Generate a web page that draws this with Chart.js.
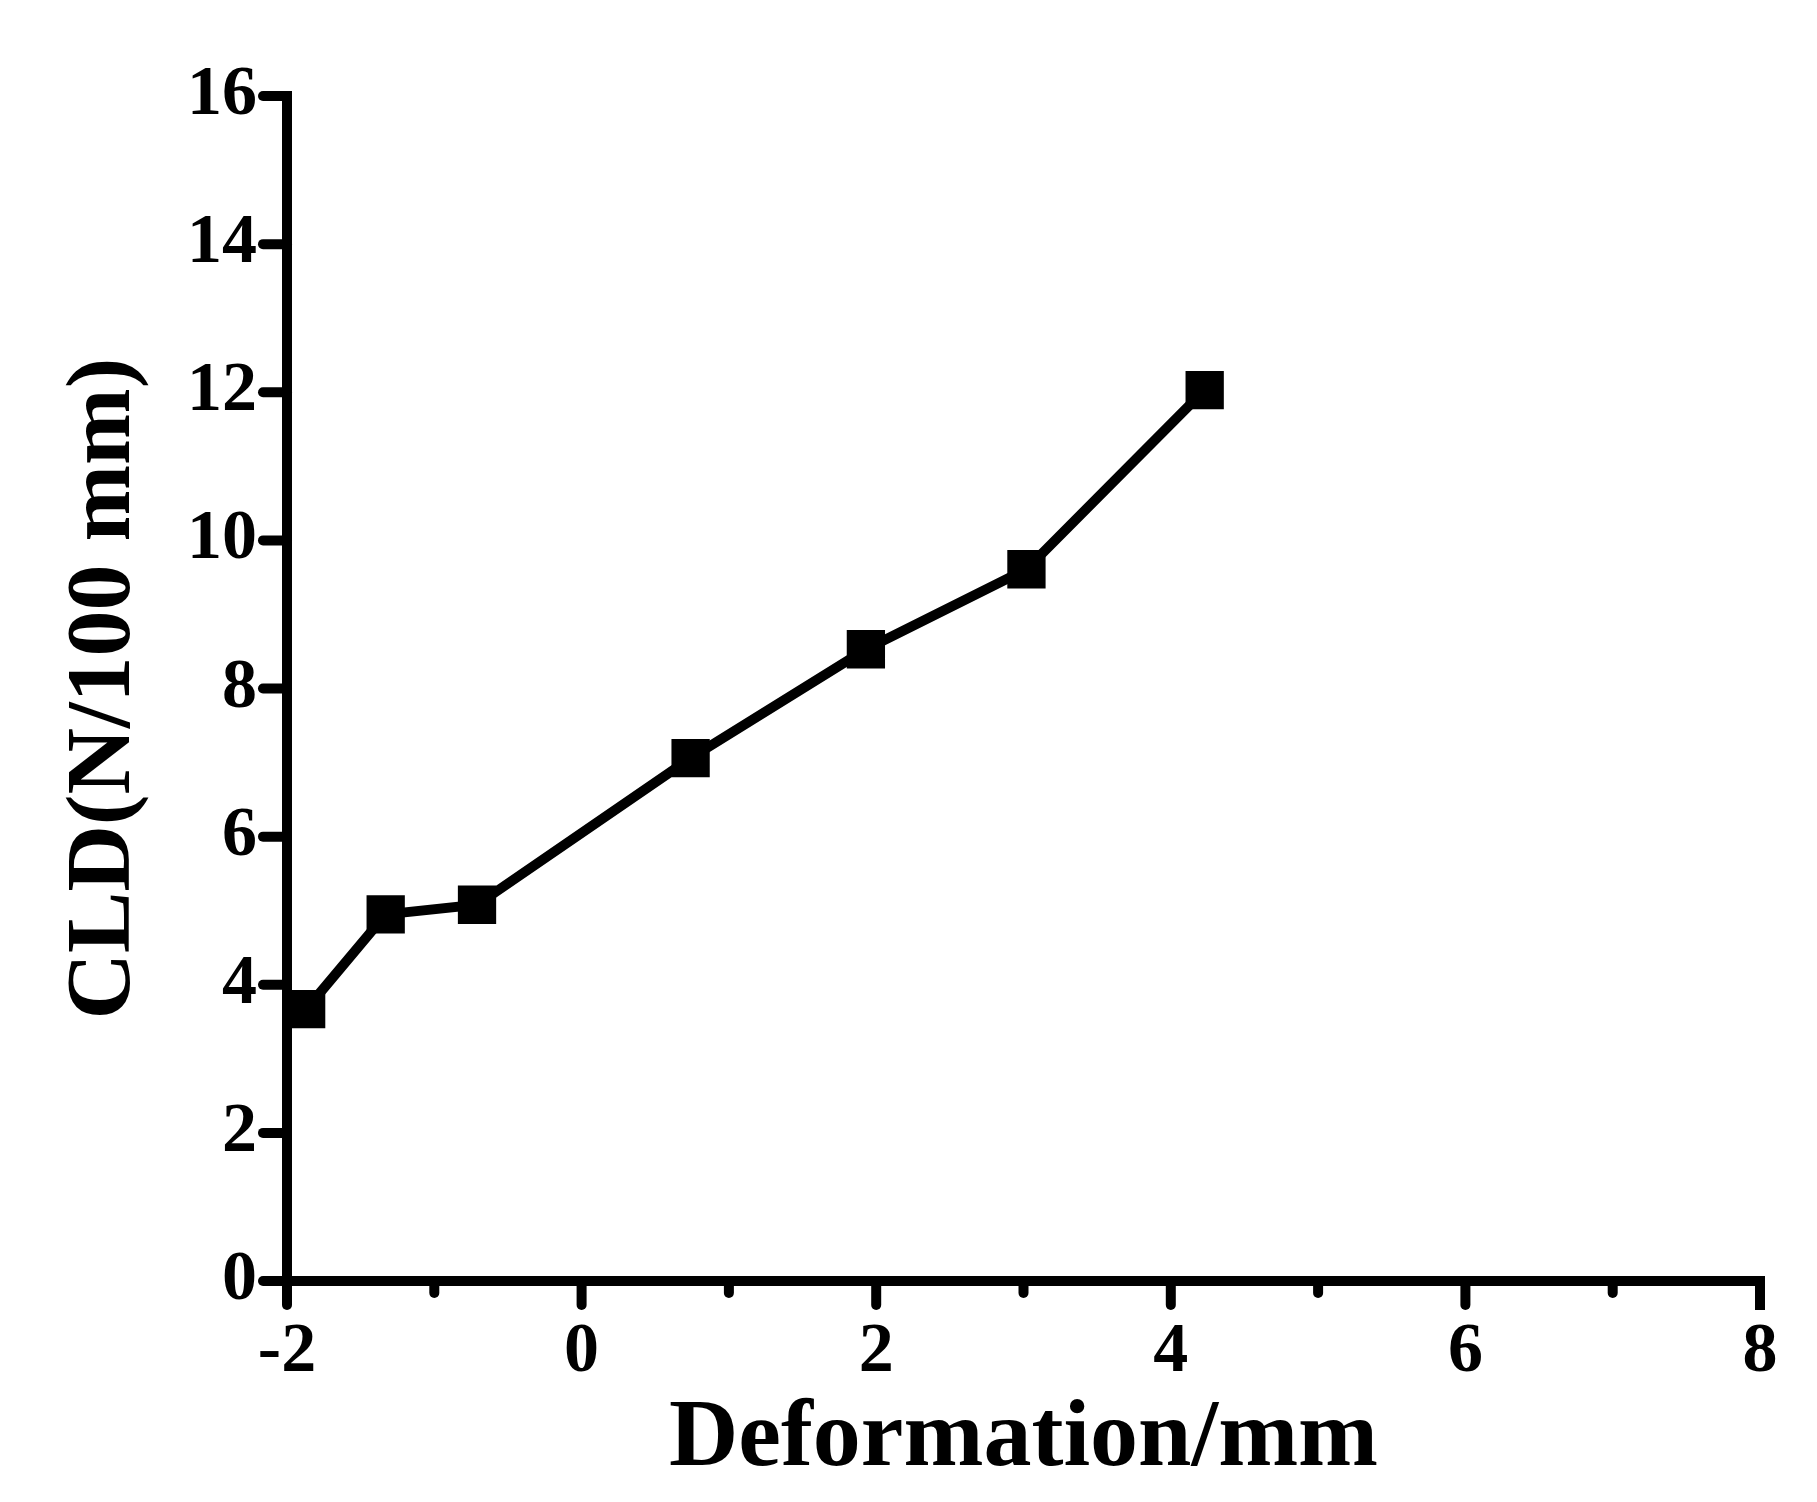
<!DOCTYPE html>
<html><head><meta charset="utf-8">
<script src="https://cdn.jsdelivr.net/npm/chart.js@4"></script>
<style>body{margin:0;background:#fff}canvas{display:block}</style>
</head><body>
<canvas id="c" width="1817" height="1502"></canvas>
<script>
// data
const deformation = [-1.87, -1.33, -0.71, 0.74, 1.93, 3.02, 4.23];
const cld = [3.67, 4.95, 5.08, 7.06, 8.53, 9.61, 12.03];
const xTicks = [-2, 0, 2, 4, 6, 8];
const yTicks = [0, 2, 4, 6, 8, 10, 12, 14, 16];

const font = 'Liberation Serif';

// draws outward ticks (major + minor on x) using the scales
const tickPlugin = {
  id: 'ticks',
  afterDraw(chart) {
    const ctx = chart.ctx, x = chart.scales.x, y = chart.scales.y;
    const a = chart.chartArea;
    ctx.save();
    ctx.strokeStyle = '#000';
    ctx.lineWidth = 10;
    ctx.lineCap = 'round';
    for (let v = -2; v <= 8; v++) {
      const px = x.getPixelForValue(v);
      const len = v % 2 === 0 ? 24 : 12;
      ctx.beginPath(); ctx.moveTo(px, a.bottom); ctx.lineTo(px, a.bottom + len); ctx.stroke();
    }
    yTicks.forEach(v => {
      const py = y.getPixelForValue(v);
      ctx.beginPath(); ctx.moveTo(a.left, py); ctx.lineTo(a.left - 24, py); ctx.stroke();
    });
    ctx.lineCap = 'square';
    ctx.beginPath();
    ctx.moveTo(a.left, a.top); ctx.lineTo(a.left, a.bottom); ctx.lineTo(a.right, a.bottom); ctx.lineTo(a.right, a.bottom + 24);
    ctx.stroke();
    ctx.restore();
  }
};

new Chart(document.getElementById('c'), {
  type: 'scatter',
  data: {
    datasets: [{
      data: deformation.map((d, i) => ({ x: d, y: cld[i] })),
      showLine: true,
      borderColor: '#000',
      borderWidth: 10,
      pointStyle: 'rect',
      pointRadius: 20,
      pointBackgroundColor: '#000',
      pointBorderColor: '#000'
    }]
  },
  options: {
    responsive: false,
    animation: false,
    layout: { padding: { top: 96, right: 57, left: 0, bottom: 0 } },
    plugins: { legend: { display: false }, tooltip: { enabled: false } },
    scales: {
      x: {
        type: 'linear', min: -2, max: 8,
        afterBuildTicks: s => { s.ticks = xTicks.map(v => ({ value: v })); },
        afterFit: s => { s.height = 221; },
        grid: { display: false, drawTicks: false },
        border: { display: false },
        ticks: { color: '#000', padding: 30, font: { family: font, size: 70, weight: 'bold' } },
        title: { display: true, text: 'Deformation/mm', color: '#000', padding: { top: 0 },
                 font: { family: font, size: 96, weight: 'bold' } }
      },
      y: {
        min: 0, max: 16,
        afterBuildTicks: s => { s.ticks = yTicks.map(v => ({ value: v })); },
        afterFit: s => { s.width = 287; },
        grid: { display: false, drawTicks: false },
        border: { display: false },
        ticks: { color: '#000', padding: 30, font: { family: font, size: 70, weight: 'bold' } },
        title: { display: true, text: 'CLD(N/100 mm)', color: '#000', padding: { top: 50, bottom: 0 },
                 font: { family: font, size: 92, weight: 'bold' } }
      }
    }
  },
  plugins: [tickPlugin]
});
</script>
</body></html>
